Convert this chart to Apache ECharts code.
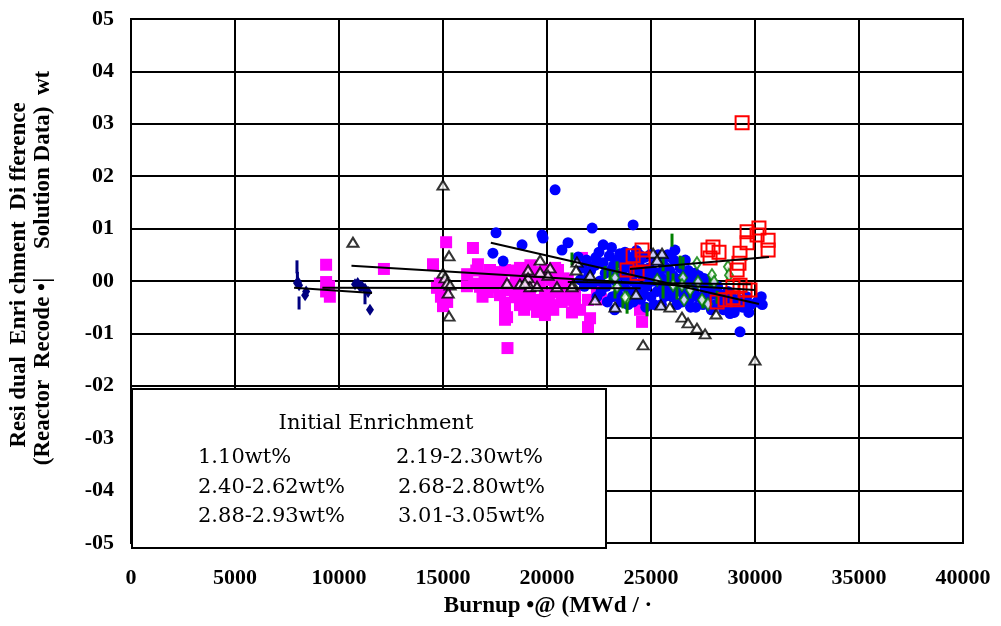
<!DOCTYPE html>
<html>
<head>
<meta charset="utf-8">
<script src="https://cdn.jsdelivr.net/npm/echarts@6/dist/echarts.min.js"></script>
<style>html,body{margin:0;padding:0;background:#fff;}#c{width:1001px;height:626px;}</style>
</head>
<body>
<div id="c"></div>
<script>
// ---- data (burnup MWd/t, residual enrichment difference wt%) ----
const xTicks = [0, 5000, 10000, 15000, 20000, 25000, 30000, 35000, 40000];
const yTickLabels = ['-05','-04','-03','-02','-01','00','01','02','03','04','05'];
const legendTitle = 'Initial Enrichment';
const legendNames = ['1.10wt%', '2.19-2.30wt%', '2.40-2.62wt%', '2.68-2.80wt%', '2.88-2.93wt%', '3.01-3.05wt%'];

const e110Diamond = [[7980,-0.004],[8030,-0.002],[8080,-0.008],[8370,-0.027],[8420,-0.020],[10770,-0.006],[10900,-0.004],[11010,-0.011],[11100,-0.010],[11250,-0.015],[11400,-0.021],[11490,-0.055]];
const e110Dash = [[7980,0.027],[8000,0.005],[8080,-0.042],[11250,-0.032]];

const e219 = [[9380,0.031],[9380,-0.002],[9520,-0.010],[9380,-0.020],[9560,-0.030],[12160,0.023],
  [15150,0.074],[14520,0.032],[16440,0.063],[16680,0.032],[16160,0.013],[16780,-0.011],[14710,-0.013],
  [15000,-0.021],[15000,-0.032],[14850,-0.005],[15100,-0.015],[14900,-0.030],[15200,-0.040],[15000,-0.048],
  [17260,0.021],[17500,0.017],[17980,0.021],[18700,0.025],[19420,0.017],[19900,0.021],[20390,0.025],
  [17640,0.002],[17740,-0.002],[18320,-0.008],[18940,0.002],[19660,-0.004],[20240,0.002],
  [17160,-0.021],[17740,-0.027],[18460,-0.031],[19180,-0.023],[19900,-0.027],[20390,-0.021],
  [17980,-0.042],[18700,-0.046],[19420,-0.036],[20150,-0.046],[17980,-0.059],[18080,-0.069],[19520,-0.059],[19900,-0.065],
  [18100,-0.128],[16150,-0.010],[16500,-0.005],[17000,0.010],[18500,0.010],[19000,-0.015],[20000,0.008],[20600,-0.010],[21000,0.000],
  [20530,0.021],[20630,-0.017],[20870,-0.036],[21350,-0.027],[21350,-0.046],[21590,-0.055],[21970,-0.036],[22070,-0.071],
  [21680,0.044],[21830,0.032],[21970,-0.088],[17980,-0.074],[22400,-0.020],[22600,-0.035],[24470,-0.055],[24570,-0.078],
  [17100,0.000],[17400,-0.012],[17800,0.012],[18100,-0.018],[18300,0.020],[18600,-0.020],[18800,-0.035],[19100,0.012],
  [19300,-0.045],[19600,0.008],[19800,-0.048],[20100,-0.030],[20300,-0.055],[20500,-0.005],[20800,0.005],[21100,-0.020],
  [21200,-0.060],[16900,-0.030],[16600,0.020],[18900,-0.055],[19200,0.030],[20700,-0.040]];

const e240 = [[10670,0.074],[15000,0.183],[15290,0.048],[15000,0.015],[15100,0.006],[15200,-0.004],[15340,-0.008],[15250,-0.023],[15290,-0.067],
  [19670,0.040],[19090,0.021],[19670,0.017],[20150,0.025],[20050,0.011],[18700,-0.006],[19090,0.006],[19180,-0.011],[19520,-0.010],[20480,-0.011],
  [18080,-0.004],[18940,-0.004],[21440,0.036],[21400,0.021],[22070,0.011],[21250,-0.008],[21200,-0.011],[22310,-0.036],[23270,-0.050],
  [24280,-0.025],[24620,-0.122],[25100,0.053],[25530,0.053],[25290,0.040],[25480,-0.046],[25910,-0.050],[26490,-0.069],[26780,-0.080],
  [27210,-0.090],[27600,-0.101],[28130,-0.063],[30000,-0.151]];

const e268 = [[17550,0.092],[17400,0.053],[17890,0.038],[18800,0.069],[19760,0.088],[19810,0.082],[20390,0.174],[21010,0.073],[20720,0.059],
  [22170,0.101],[22700,0.069],[24140,0.107],[29280,-0.097],
  [21500,0.046],[21700,0.025],[21900,0.040],[22000,0.010],[22200,-0.005],[22300,0.030],[22500,0.055],[22600,-0.020],[22800,0.015],[22900,-0.040],
  [23000,0.048],[21800,-0.010],[22400,-0.030],[21600,0.002],
  [23100,0.064],[23200,0.030],[23300,0.000],[23400,-0.025],[23500,0.052],[23600,0.015],[23700,-0.010],[23800,0.040],[23900,-0.045],[24000,0.025],
  [24100,0.000],[24200,-0.020],[24300,0.058],[24400,0.035],[24500,-0.035],[23250,-0.055],
  [24600,0.010],[24700,0.045],[24800,-0.010],[24900,0.025],[25000,-0.030],[25100,0.000],[25200,0.040],[25300,-0.020],[25400,0.015],[25500,-0.045],
  [25600,0.030],[25700,-0.005],[25800,0.050],[25900,0.020],[26000,-0.030],[24750,-0.050],[26150,0.059],[25580,0.044],
  [26100,0.040],[26200,0.005],[26300,-0.015],[26400,0.025],[26500,-0.040],[26600,0.010],[26700,-0.020],[26800,0.020],[26900,-0.050],[27000,0.000],
  [27100,0.015],[27200,-0.030],[27300,0.010],[27500,-0.045],[27600,-0.015],[27800,0.000],[27900,-0.055],
  [28000,-0.025],[28200,-0.010],[28400,-0.040],[28500,-0.055],[28700,-0.020],[28900,-0.045],[29000,-0.060],[29200,-0.035],[29400,-0.050],
  [29600,-0.030],[29800,-0.045],[30100,-0.040],[30300,-0.030],[30350,-0.045],[29700,-0.060],[28800,-0.062],
  [22100,0.020],[22350,0.045],[22550,0.000],[22700,0.035],[22850,-0.010],[23050,0.020],[23150,-0.030],[23350,0.040],[23450,0.010],
  [23550,-0.040],[23650,0.030],[23750,0.055],[23850,0.005],[23950,-0.020],[24050,0.045],[24150,-0.040],[24250,0.015],[24350,-0.010],
  [24450,0.050],[24550,0.025],[24650,-0.025],[24850,0.005],[24950,0.050],[25050,0.020],[25150,-0.045],[25250,0.015],[25350,0.050],
  [25450,-0.010],[25550,0.005],[25650,-0.030],[25750,0.025],[25850,-0.020],[25950,0.045],[26050,0.010],[26250,-0.045],[26350,0.035],
  [26450,0.000],[26550,-0.025],[26650,0.040],[26750,-0.005],[26850,-0.035],[26950,0.010],[27050,-0.020],[27150,-0.050],[27250,0.000],
  [27400,-0.030],[27550,0.005],[27700,-0.035],[27850,-0.015],[28100,-0.045],[28300,-0.025],[28600,-0.035],[29100,-0.050],[29500,-0.040],[28850,-0.030]];

const e288Dash = [[21200,0.042],[22790,0.016],[23370,0.025],[23030,0.008],[23270,-0.021],[23650,-0.040],[23850,-0.050],[24810,-0.055],
  [26010,0.078],[26250,-0.023],[26540,0.034],[26060,0.002],[25580,0.031],[25820,0.006],[26400,0.036],[26880,-0.021],[27500,-0.040],
  [27840,0.002],[28700,0.015],[28180,-0.031],[25580,-0.021]];
const e288Diamond = [[27210,0.034],[28700,0.027],[28750,0.011],[26540,0.006],[26490,-0.008],[26880,-0.017],[27450,-0.036],[27740,-0.044],
  [26590,-0.036],[27930,0.011],[28030,-0.002],[23370,-0.011],[23850,-0.032],[23270,0.006],[23750,-0.031],[26060,-0.008],[27260,-0.002],[25300,0.002]];

const e301 = [[29380,0.302],[29620,0.094],[30190,0.101],[30630,0.078],[30630,0.059],[30100,0.088],[29620,0.073],[29280,0.053],[29230,0.034],
  [29140,0.021],[27980,0.065],[27740,0.059],[28270,0.055],[27840,0.044],[24570,0.059],[24620,0.042],[24140,0.048],[23850,0.021],[24330,0.015],
  [28940,-0.011],[29280,-0.008],[29520,-0.017],[29760,-0.017],[28940,-0.032],[28560,-0.036],[28180,-0.040],[29140,-0.036]];

// trend lines (endpoints)
const trend110 = [[7840,-0.013],[11590,-0.023]];
const trend219 = [[9200,-0.013],[24500,-0.014]];
const trend240 = [[10600,0.029],[30000,-0.017]];
const trend268 = [[17300,0.073],[30190,-0.044]];
const trend288 = [[21000,-0.002],[29800,-0.006]];
const trend301 = [[23990,0.023],[30670,0.046]];

const serif = '"Liberation Serif","Times New Roman",serif';
const legendFont = '"DejaVu Serif",serif';

function sc(data, symbol, size, color, filled, z) {
  return {
    type: 'scatter', data: data, symbol: symbol, symbolSize: size, z: z,
    itemStyle: filled ? { color: color, opacity: 1 } : { color: 'rgba(0,0,0,0)', borderColor: color, borderWidth: 2, opacity: 1 },
    emphasis: { disabled: true }, animation: false
  };
}
function tl(data) {
  return { type: 'line', data: data, symbol: 'none', z: 20, lineStyle: { color: '#000', width: 2 }, animation: false, silent: true };
}

const chart = echarts.init(document.getElementById('c'), null, { renderer: 'canvas' });
chart.setOption({
  backgroundColor: '#fff',
  animation: false,
  grid: { left: 131, top: 19, right: 38, bottom: 83, show: true, borderColor: '#000', borderWidth: 2, backgroundColor: '#fff' },
  xAxis: {
    type: 'value', min: 0, max: 40000, interval: 5000,
    axisLine: { lineStyle: { color: '#000', width: 2 } },
    axisTick: { show: false },
    splitLine: { lineStyle: { color: '#000', width: 2 } },
    axisLabel: { color: '#000', fontFamily: serif, fontWeight: 'bold', fontSize: 22, margin: 24,
      formatter: function (v) { return String(xTicks[Math.round(v / 5000)]); } }
  },
  yAxis: {
    type: 'value', min: -0.5, max: 0.5, interval: 0.1,
    axisLine: { lineStyle: { color: '#000', width: 2 } },
    axisTick: { show: false },
    splitLine: { lineStyle: { color: '#000', width: 2 } },
    axisLabel: { color: '#000', fontFamily: serif, fontWeight: 'bold', fontSize: 22, margin: 17,
      formatter: function (v) { return yTickLabels[Math.round(v * 10) + 5]; } }
  },
  series: [
    sc(e219, 'rect', 12, '#FF00FF', true, 3),
    sc(e268, 'circle', 11, '#0000FF', true, 4),
    sc(e110Diamond, 'diamond', [8, 12], '#000080', true, 5),
    sc(e110Dash, 'rect', [3, 13], '#000080', true, 5),
    sc(e288Dash, 'rect', [3, 13], '#008000', true, 6),
    Object.assign(sc(e288Diamond, 'diamond', [8, 12], '#008000', false, 6), { itemStyle: { color: '#fff', borderColor: '#008000', borderWidth: 2 } }),
    Object.assign(sc(e240, 'triangle', [11, 9], '#000', false, 7), { itemStyle: { color: '#fff', borderColor: '#000', borderWidth: 2 } }),
    sc(e301, 'rect', 13, '#FF0000', false, 8),
    tl(trend110), tl(trend219), tl(trend240), tl(trend268), tl(trend288), tl(trend301)
  ],
  graphic: [
    { type: 'rect', z: 100, shape: { x: 132, y: 389, width: 474, height: 159 }, style: { fill: '#fff', stroke: '#000', lineWidth: 2 } },
    { type: 'text', z: 101, x: 376, y: 424, style: { text: legendTitle, font: '21px ' + legendFont, fill: '#000', textAlign: 'center', textVerticalAlign: 'middle' } },
    { type: 'text', z: 101, x: 198, y: 458, style: { text: legendNames[0], font: '21px ' + legendFont, fill: '#000', textAlign: 'left', textVerticalAlign: 'middle' } },
    { type: 'text', z: 101, x: 396, y: 458, style: { text: legendNames[1], font: '21px ' + legendFont, fill: '#000', textAlign: 'left', textVerticalAlign: 'middle' } },
    { type: 'text', z: 101, x: 198, y: 488, style: { text: legendNames[2], font: '21px ' + legendFont, fill: '#000', textAlign: 'left', textVerticalAlign: 'middle' } },
    { type: 'text', z: 101, x: 398, y: 488, style: { text: legendNames[3], font: '21px ' + legendFont, fill: '#000', textAlign: 'left', textVerticalAlign: 'middle' } },
    { type: 'text', z: 101, x: 198, y: 517, style: { text: legendNames[4], font: '21px ' + legendFont, fill: '#000', textAlign: 'left', textVerticalAlign: 'middle' } },
    { type: 'text', z: 101, x: 398, y: 517, style: { text: legendNames[5], font: '21px ' + legendFont, fill: '#000', textAlign: 'left', textVerticalAlign: 'middle' } },
    { type: 'text', z: 101, x: 19, y: 275, rotation: Math.PI / 2, style: { text: 'Resi dual  Enri chment  Di fference', font: 'bold 23px ' + serif, fill: '#000', textAlign: 'center', textVerticalAlign: 'middle' } },
    { type: 'text', z: 101, x: 43, y: 268, rotation: Math.PI / 2, style: { text: '(Reactor  Recode \u2022|     Solution Data)  wt', font: 'bold 23px ' + serif, fill: '#000', textAlign: 'center', textVerticalAlign: 'middle' } },
    { type: 'text', z: 101, x: 548, y: 606, style: { text: 'Burnup \u2022@ (MWd / \u00b7', font: 'bold 23px ' + serif, fill: '#000', textAlign: 'center', textVerticalAlign: 'middle' } }
  ]
});
</script>
</body>
</html>
